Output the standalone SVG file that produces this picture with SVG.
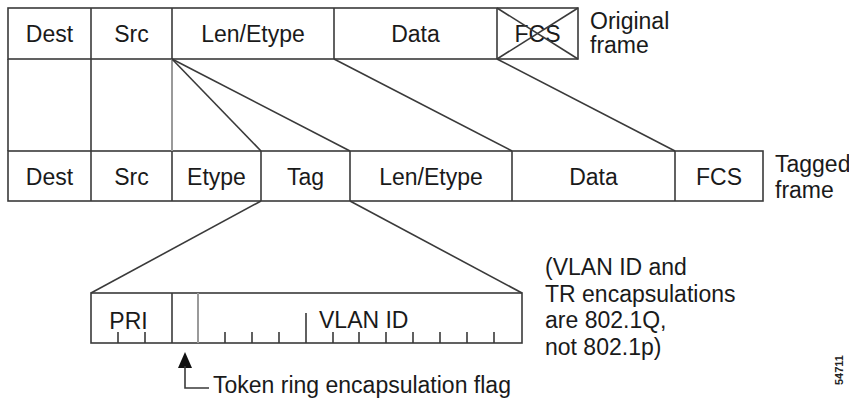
<svg xmlns="http://www.w3.org/2000/svg" width="849" height="402" viewBox="0 0 849 402">
<style>
.ln{stroke:#3a3a3a;stroke-width:1.6;fill:none}
.lg{stroke:#9a9a9a;stroke-width:2;fill:none}
.bx{stroke:#3a3a3a;stroke-width:1.6;fill:#fff}
.t{font-family:"Liberation Sans",Arial,sans-serif;font-size:23px;fill:#1a1a1a}
.c{text-anchor:middle}
</style>
<rect width="849" height="402" fill="#fff"/>
<g id="original-frame">
<rect class="bx" x="8" y="8" width="570" height="51"/>
<line class="ln" x1="91" y1="8" x2="91" y2="59"/>
<line class="ln" x1="172" y1="8" x2="172" y2="59"/>
<line class="ln" x1="334" y1="8" x2="334" y2="59"/>
<line class="ln" x1="497" y1="8" x2="497" y2="59"/>
<text class="t c" x="49.5" y="42">Dest</text>
<text class="t c" x="131.5" y="42">Src</text>
<text class="t c" x="253" y="42">Len/Etype</text>
<text class="t c" x="415.5" y="42">Data</text>
<text class="t c" x="537.5" y="42">FCS</text>
<line class="ln" x1="497" y1="8" x2="578" y2="59" stroke-width="1.2"/>
<line class="ln" x1="497" y1="59" x2="578" y2="8" stroke-width="1.2"/>
<text class="t" x="590" y="29">Original</text>
<text class="t" x="590" y="53">frame</text>
</g>
<g id="tagged-frame">
<rect class="bx" x="8" y="151" width="755" height="50"/>
<line class="ln" x1="91" y1="151" x2="91" y2="201"/>
<line class="ln" x1="172" y1="151" x2="172" y2="201"/>
<line class="ln" x1="261" y1="151" x2="261" y2="201"/>
<line class="ln" x1="350" y1="151" x2="350" y2="201"/>
<line class="ln" x1="512" y1="151" x2="512" y2="201"/>
<line class="ln" x1="675" y1="151" x2="675" y2="201"/>
<text class="t c" x="49.5" y="185">Dest</text>
<text class="t c" x="131.5" y="185">Src</text>
<text class="t c" x="216.5" y="185">Etype</text>
<text class="t c" x="305.5" y="185">Tag</text>
<text class="t c" x="431" y="185">Len/Etype</text>
<text class="t c" x="593.5" y="185">Data</text>
<text class="t c" x="719" y="185">FCS</text>
<text class="t" x="775" y="172">Tagged</text>
<text class="t" x="775" y="198">frame</text>
</g>
<g id="tag-fields">
<rect class="bx" x="91" y="293" width="431" height="50"/>
<line class="ln" x1="172" y1="293" x2="172" y2="343"/>
<line class="lg" x1="198" y1="293" x2="198" y2="343"/>
<path class="ln" stroke-width="1.3" d="M118 343V332M145 343V332M225 343V332M252 343V332M279 343V332M306 343V313M333 343V332M359 343V332M386 343V332M413 343V332M440 343V332M467 343V332M494 343V332"/>
<text class="t c" x="128.5" y="329">PRI</text>
<text class="t" x="319" y="328">VLAN ID</text>
</g>
<g id="note">
<text class="t" x="545" y="275">(VLAN ID and</text>
<text class="t" x="545" y="302">TR encapsulations</text>
<text class="t" x="545" y="328">are 802.1Q,</text>
<text class="t" x="545" y="355">not 802.1p)</text>
</g>
<g id="flag-label">
<polygon points="185,352 178,368 192,368" fill="#111"/>
<path class="ln" d="M185 366V388H209"/>
<text class="t" x="213" y="393">Token ring encapsulation flag</text>
</g>
<g id="connectors">
<line class="ln" x1="8" y1="59" x2="8" y2="151"/>
<line class="ln" x1="91" y1="59" x2="91" y2="151"/>
<line class="lg" x1="172" y1="59" x2="172" y2="151"/>
<line class="ln" x1="172" y1="59" x2="261" y2="151"/>
<line class="ln" x1="172" y1="59" x2="350" y2="151"/>
<line class="ln" x1="334" y1="59" x2="512" y2="151"/>
<line class="ln" x1="497" y1="59" x2="675" y2="151"/>
<line class="ln" x1="261" y1="201" x2="91" y2="293"/>
<line class="ln" x1="350" y1="201" x2="522" y2="293"/>
</g>
<text x="843" y="370" transform="rotate(-90 843 370)" text-anchor="middle" font-family="'Liberation Sans',Arial,sans-serif" font-size="11" font-weight="bold" fill="#222">54711</text>
</svg>
